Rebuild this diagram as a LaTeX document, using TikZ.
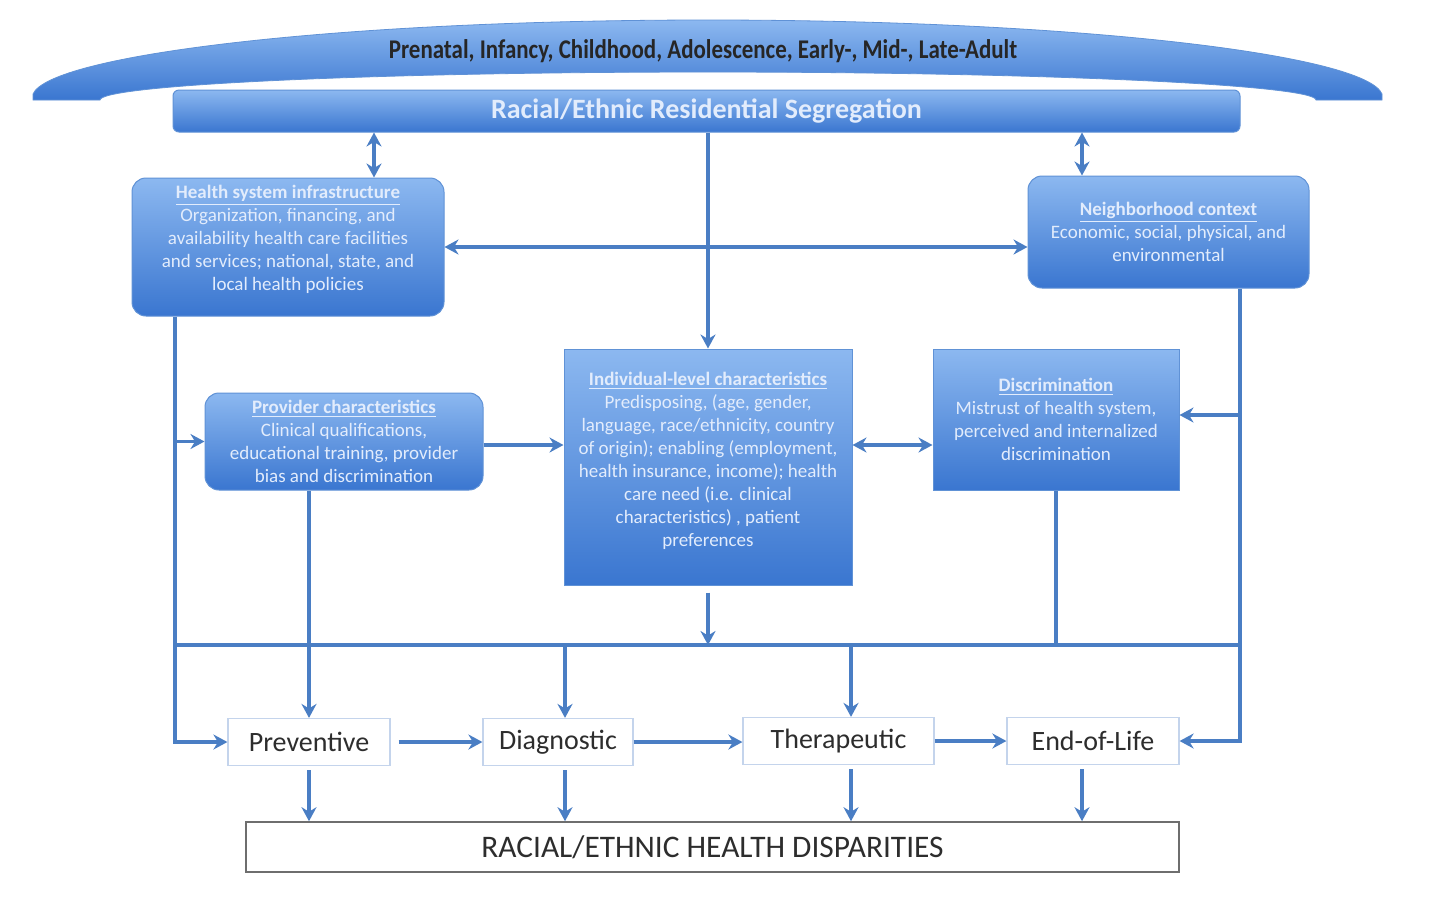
\documentclass[tikz,border=0pt]{standalone}
\usepackage{fontspec}
\setmainfont{Carlito}
\usetikzlibrary{arrows.meta, positioning, calc}
\definecolor{linkblue}{RGB}{74,126,196}
\definecolor{boxtop}{RGB}{140,184,240}
\definecolor{boxbot}{RGB}{58,118,208}
\definecolor{boxedge}{RGB}{96,146,214}
\definecolor{boxtext}{RGB}{226,236,252}
\definecolor{caretext}{RGB}{45,45,45}
\definecolor{careedge}{RGB}{196,212,236}
\definecolor{dispedge}{RGB}{110,110,110}

\begin{document}
\begin{tikzpicture}[x=0.5pt, y=-0.5pt,
    bluebox/.style={rectangle, draw=boxedge, line width=0.5pt, top color=boxtop, bottom color=boxbot, align=center, text=boxtext, font=\fontsize{9.5}{11.5}\selectfont, inner sep=2pt},
    roundbox/.style={bluebox, rounded corners=7pt},
    carebox/.style={rectangle, draw=careedge, line width=0.6pt, fill=white, minimum height=23.5pt, text=caretext, font=\fontsize{14}{16}\selectfont},
    arrow/.style={-{Stealth[length=7pt, width=7.5pt]}, line width=1.7pt, color=linkblue},
    dblarrow/.style={{Stealth[length=7pt, width=7.5pt]}-{Stealth[length=7pt, width=7.5pt]}, line width=1.7pt, color=linkblue},
    link/.style={line width=1.7pt, color=linkblue}
]
\useasboundingbox (0,0) rectangle (1434,912);
\fill[white] (0,0) rectangle (1434,912);
\path[top color=boxtop, bottom color=boxbot, draw=boxedge, line width=0.4pt]
  (33,100) -- (33,94) .. controls (50,55) and (335,20) .. (708,20)
  .. controls (1081,20) and (1366,55) .. (1382,94) -- (1382,100)
  -- (1316,100) .. controls (1316,85) and (1044,72) .. (708,72)
  .. controls (372,72) and (100,85) .. (100,100) -- cycle;
\node[font=\fontsize{13.5}{15}\selectfont\bfseries, text=black!85] (life) at (703,51)
  {\scalebox{0.85}[1]{Prenatal, Infancy, Childhood, Adolescence, Early-, Mid-, Late-Adult}};
\node[bluebox, rounded corners=3pt, minimum width=533.5pt, minimum height=21pt, font=\fontsize{14}{16}\selectfont\bfseries] (seg) at (706.5,111)
  {Racial/Ethnic Residential Segregation};
\node[roundbox, minimum width=156pt, minimum height=69pt] (hsi) at (288,247)
  {\underline{\textbf{Health system infrastructure}}\\Organization, financing, and\\availability health care facilities\\and services; national, state, and\\local health policies\\[-2pt]};
\node[roundbox, minimum width=140.5pt, minimum height=56pt] (hood) at (1168.5,232)
  {\underline{\textbf{Neighborhood context}}\\Economic, social, physical, and\\environmental};
\node[roundbox, minimum width=139pt, minimum height=48.5pt] (prov) at (344,441.5)
  {\underline{\textbf{Provider characteristics}}\\Clinical qualifications,\\educational training, provider\\bias and discrimination};
\node[bluebox, minimum width=144pt, minimum height=118pt] (indiv) at (708,467)
  {\underline{\textbf{Individual-level characteristics}}\\Predisposing, (age, gender,\\language, race/ethnicity, country\\of origin); enabling (employment,\\health insurance, income); health\\care need (i.e. clinical\\characteristics) , patient\\preferences\\[-4pt]};
\node[bluebox, minimum width=123pt, minimum height=70.5pt] (discr) at (1056,419.5)
  {\underline{\textbf{Discrimination}}\\Mistrust of health system,\\perceived and internalized\\discrimination};
\node[carebox, minimum width=81pt] (prev) at (309,742)  {Preventive};
\node[carebox, minimum width=75pt] (diag) at (558,742)  {Diagnostic};
\node[carebox, minimum width=95.5pt] (ther) at (838.5,741) {Therapeutic};
\node[carebox, minimum width=86pt] (eol) at (1093,741) {End-of-Life};
\node[rectangle, draw=dispedge, line width=0.8pt, fill=white, minimum width=466.5pt, minimum height=25pt, text=caretext, font=\fontsize{15.7}{17}\selectfont] (disp) at (712.5,847)
  {RACIAL/ETHNIC HEALTH DISPARITIES};
\coordinate (lrail) at (175,645);
\coordinate (rrail) at (1240,645);
\coordinate (hsiup) at (374,150);
\coordinate (hoodup) at (1082,150);
\coordinate (row) at (0,445);
\coordinate (drow) at (0,415);
\coordinate (diagin) at (565,0);
\coordinate (therin) at (851,0);
\coordinate (eolout) at (1082,0);
\draw[dblarrow] (seg.south -| hsiup) -- (hsi.north -| hsiup);
\draw[dblarrow] (seg.south -| hoodup) -- (hood.north -| hoodup);
\draw[arrow] (seg.south -| indiv.north) -- (indiv.north);
\draw[dblarrow] (hsi.east) -- (hsi.east -| hood.west);
\draw[arrow] (hsi.south -| lrail) |- (prev.west);
\draw[arrow] (prov.west -| lrail) -- (prov.west);
\draw[arrow] (prov.east |- row) -- (indiv.west |- row);
\draw[dblarrow] (indiv.east |- row) -- (discr.west |- row);
\draw[arrow] (hood.south -| rrail) |- (eol.east);
\draw[arrow] (rrail |- drow) -- (discr.east |- drow);
\draw[link] (lrail) -- (rrail);
\draw[link] (discr.south) -- (discr.south |- rrail);
\draw[arrow, shorten <=3.5pt] (indiv.south) -- (indiv.south |- lrail);
\draw[arrow] (prev.north |- prov.south) -- (prev.north);
\draw[arrow] (diagin |- lrail) -- (diagin |- diag.north);
\draw[arrow] (therin |- lrail) -- (therin |- ther.north);
\draw[arrow, shorten <=4pt] (prev.east) -- (diag.west);
\draw[arrow] (diag.east) -- (ther.west |- diag.east);
\draw[arrow] (ther.east) -- (eol.west);
\draw[arrow, shorten <=2pt] (prev.south) -- (prev.south |- disp.north);
\draw[arrow, shorten <=2pt] (diagin |- diag.south) -- (diagin |- disp.north);
\draw[arrow, shorten <=2pt] (therin |- ther.south) -- (therin |- disp.north);
\draw[arrow, shorten <=2pt] (eolout |- eol.south) -- (eolout |- disp.north);
\end{tikzpicture}
\end{document}
